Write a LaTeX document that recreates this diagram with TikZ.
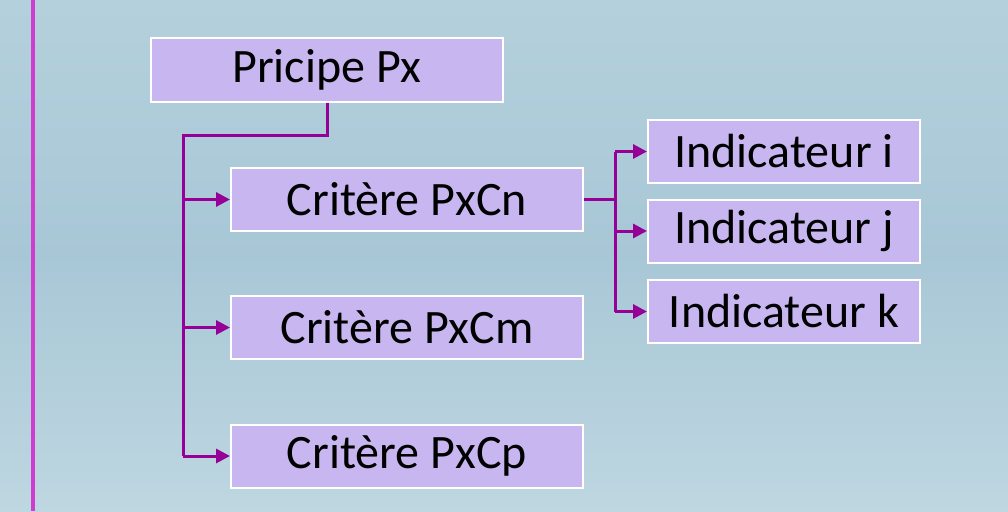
\documentclass[tikz,border=0pt]{standalone}
\usepackage{fontspec}
\setmainfont{Carlito}
\usetikzlibrary{arrows.meta}
\definecolor{bgtop}{RGB}{180,208,220}
\definecolor{bgmid}{RGB}{168,199,214}
\definecolor{bgbot}{RGB}{190,215,225}
\definecolor{boxfill}{RGB}{200,182,240}
\definecolor{conn}{RGB}{150,0,150}
\definecolor{sideline}{RGB}{208,60,208}
\tikzset{
  box/.style={draw=white, line width=2pt, fill=boxfill, text=black,
    font=\fontsize{48}{52}\selectfont, inner sep=0pt, align=center},
  bigbox/.style={box, minimum width=352pt, minimum height=63pt},
  indbox/.style={box, minimum width=272pt, minimum height=63pt},
  connline/.style={draw=conn, line width=3pt},
  connarrow/.style={connline, -{Triangle[length=14pt,width=14pt]}}
}
\begin{document}
\begin{tikzpicture}[x=1pt,y=-1pt]
\useasboundingbox (0,0) rectangle (1008,511);
\shade[top color=bgtop, bottom color=bgbot, middle color=bgmid] (0,0) rectangle (1008,511);
\draw[sideline, line width=4pt] (33,0) -- (33,511);

\node[bigbox] (P) at (327,70) {Pricipe Px};
\node[bigbox] (Cn) at (407,199.5) {Critère PxCn};
\node[bigbox] (Cm) at (407,327.5) {Critère PxCm};
\node[bigbox] (Cp) at (407,456) {Critère PxCp};
\node[indbox] (Ii) at (784,151.5) {Indicateur i};
\node[indbox] (Ij) at (784,231) {Indicateur j};
\node[indbox] (Ik) at (784,311.5) {Indicateur k};

\coordinate (t0) at (183,135);
\coordinate (b0) at (615,0);

\draw[connline] (P.south) |- (t0) -- (t0 |- Cp.west);
\draw[connarrow] (t0 |- Cn.west) -- (Cn.west);
\draw[connarrow] (t0 |- Cm.west) -- (Cm.west);
\draw[connarrow] (t0 |- Cp.west) -- (Cp.west);

\draw[connline] (Cn.east) -- (b0 |- Cn.east);
\draw[connline] (b0 |- Ii.west) -- (b0 |- Ik.west);
\draw[connarrow] (b0 |- Ii.west) -- (Ii.west);
\draw[connarrow] (b0 |- Ij.west) -- (Ij.west);
\draw[connarrow] (b0 |- Ik.west) -- (Ik.west);
\end{tikzpicture}
\end{document}
